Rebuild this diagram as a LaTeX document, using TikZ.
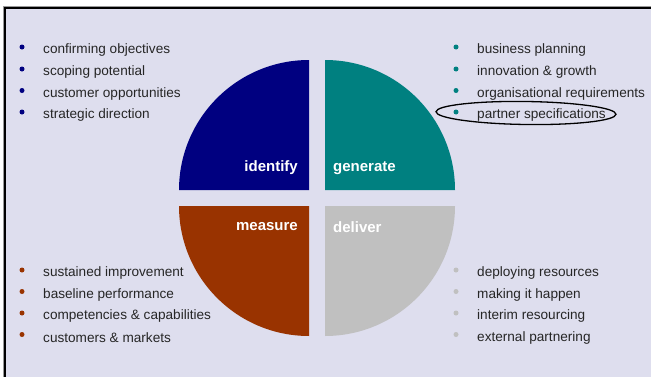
\documentclass[tikz,border=0pt]{standalone}
\usepackage{fontspec}
\setmainfont{Liberation Sans}
\definecolor{panelbg}{RGB}{222,222,238}
\definecolor{navyq}{RGB}{0,0,128}
\definecolor{tealq}{RGB}{0,128,128}
\definecolor{rustq}{RGB}{153,51,0}
\definecolor{greyq}{RGB}{192,192,192}
\tikzset{
  item/.style={anchor=west, inner sep=0pt, font=\fontsize{13.6}{15}\selectfont, text=black!85},
  qlabel/.style={inner sep=0pt, text=white, font=\bfseries\fontsize{15}{17}\selectfont},
  dot/.style={circle, fill=#1, inner sep=0pt, minimum size=5pt},
}
\begin{document}
\begin{tikzpicture}[x=1pt,y=1pt]
\useasboundingbox (0,0) rectangle (651,376);
% page and framed panel
\fill[white] (0,0) rectangle (651,376);
\fill[panelbg] (5,-10) rectangle (670,368);
\draw[black!40, line width=1pt] (3.5,-10) |- (670,369.5);
\draw[black, line width=1.5pt] (5,-10) |- (670,368);
% four quadrants
\fill[navyq] (309,186) -- (179,186) arc[start angle=180, end angle=90, radius=130] -- cycle;
\fill[tealq] (325,186) -- (325,316) arc[start angle=90, end angle=0, radius=130] -- cycle;
\fill[rustq] (309,170) -- (309,40) arc[start angle=270, end angle=180, radius=130] -- cycle;
\fill[greyq] (325,170) -- (455,170) arc[start angle=0, end angle=-90, radius=130] -- cycle;
% quadrant labels
\node[qlabel, anchor=east] (lid) at (298,208) {identify};
\node[qlabel, anchor=west] (lgen) at (333,208) {generate};
\node[qlabel, anchor=east] (lmea) at (298,149) {measure};
\node[qlabel, anchor=west] (ldel) at (333,149) {deliver};
% identify list
\foreach \t/\y [count=\i] in {confirming objectives/326, scoping potential/304, customer opportunities/282.5, strategic direction/261}{
  \node[dot=navyq] (ib\i) at (22,\y+3) {};
  \node[item] (it\i) at (43,\y) {\t};
}
% generate list
\foreach \t/\y [count=\i] in {business planning/326, innovation \& growth/304, organisational requirements/282.5, partner specifications/261}{
  \node[dot=tealq] (gb\i) at (456,\y+3) {};
  \node[item] (gt\i) at (477,\y) {\t};
}
% measure list
\foreach \t/\y [count=\i] in {sustained improvement/103, baseline performance/81.5, competencies \& capabilities/60, customers \& markets/38.5}{
  \node[dot=rustq] (mb\i) at (22,\y+3) {};
  \node[item] (mt\i) at (43,\y) {\t};
}
% deliver list
\foreach \t/\y [count=\i] in {deploying resources/103, making it happen/81.5, interim resourcing/60, external partnering/38.5}{
  \node[dot=greyq] (db\i) at (456,\y+3) {};
  \node[item] (dt\i) at (477,\y) {\t};
}
% highlight ring
\draw[black, line width=1.3pt, rotate around={-0.8:(526,263)}] (526,263) ellipse[x radius=90, y radius=11.5];
\end{tikzpicture}
\end{document}
